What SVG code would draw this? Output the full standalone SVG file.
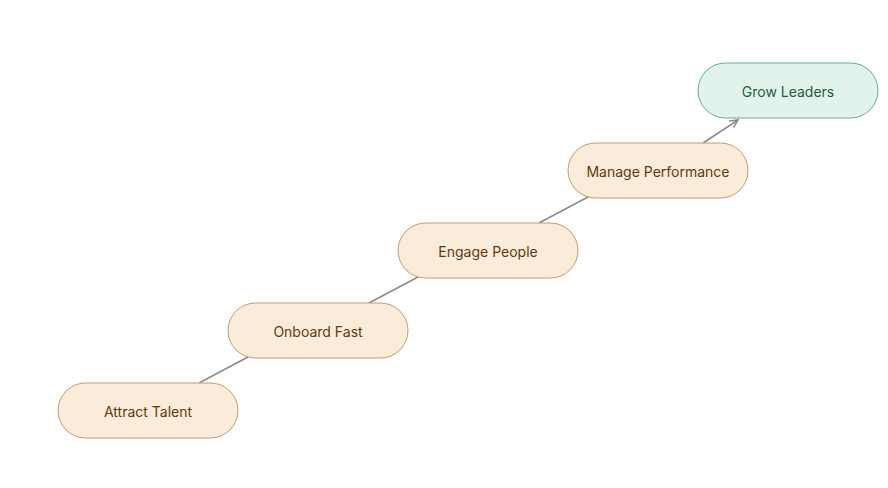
<svg xmlns="http://www.w3.org/2000/svg" width="888" height="488" viewBox="0 0 888 488">
<defs>
<style>
.n rect{fill:#faecd9;stroke:#c29b6d;stroke-width:1}
.n text{fill:#5e3a10;font-family:Inter,"Liberation Sans",sans-serif;font-size:14px;text-anchor:middle;dominant-baseline:central}
.g rect{fill:#e1f4ec;stroke:#5fae8c;stroke-width:1}
.g text{fill:#1e5a44;font-family:Inter,"Liberation Sans",sans-serif;font-size:14px;text-anchor:middle;dominant-baseline:central}
.c line{stroke:#8a8a8a;stroke-width:1.5;fill:none}
</style>
<marker id="arr" viewBox="0 0 10 10" refX="9" refY="5" markerWidth="10" markerHeight="10" markerUnits="userSpaceOnUse" orient="auto">
<path d="M1,1 L9,5 L1,9" fill="none" stroke="#8a8a8a" stroke-width="1.5"/>
</marker>
</defs>
<rect width="888" height="488" fill="#ffffff"/>
<g id="connectors" class="c">
<line x1="199" y1="383" x2="248" y2="357"/>
<line x1="369" y1="303" x2="418" y2="277"/>
<line x1="539" y1="223" x2="588" y2="197"/>
<line x1="703" y1="143" x2="738" y2="120" marker-end="url(#arr)"/>
</g>
<g id="attract" class="n"><rect x="58" y="383" width="180" height="55" rx="27.5"/><text x="148" y="411">Attract Talent</text></g>
<g id="onboard" class="n"><rect x="228" y="303" width="180" height="55" rx="27.5"/><text x="318" y="331">Onboard Fast</text></g>
<g id="engage" class="n"><rect x="398" y="223" width="180" height="55" rx="27.5"/><text x="488" y="251">Engage People</text></g>
<g id="manage" class="n"><rect x="568" y="143" width="180" height="55" rx="27.5"/><text x="658" y="171">Manage Performance</text></g>
<g id="grow" class="g"><rect x="698" y="63" width="180" height="55" rx="27.5"/><text x="788" y="91">Grow Leaders</text></g>
</svg>
